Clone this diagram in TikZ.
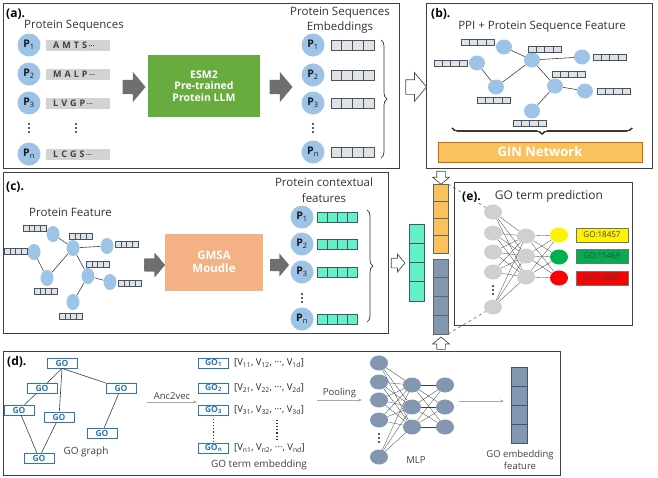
\documentclass[tikz,border=0pt]{standalone}
\usepackage{fontspec}
\setmainfont{Open Sans}
\usepackage{tikz}
\usetikzlibrary{arrows.meta,positioning,shapes.geometric,shapes.arrows,decorations.pathreplacing}

\definecolor{protblue}{HTML}{9DC3E6}
\definecolor{nodeblue}{HTML}{9DC3E6}
\definecolor{seqgray}{HTML}{D3D3D3}
\definecolor{cellgray}{HTML}{E2E2E2}
\definecolor{cellblue}{HTML}{44546A}
\definecolor{esmgreen}{HTML}{68AB3E}
\definecolor{gmsaorange}{HTML}{F4B183}
\definecolor{ginorange}{HTML}{F9C25C}
\definecolor{arrowgray}{HTML}{6F6F6F}
\definecolor{tealcell}{HTML}{63F2C6}
\definecolor{mlpblue}{HTML}{8497B0}
\definecolor{neurgray}{HTML}{D0D0D0}
\definecolor{goblue}{HTML}{2E75B6}
\definecolor{outgreen}{HTML}{00B050}

% one row of four cells: left x, centre y, cell width, cell height, style
\newcommand{\featrow}[5]{%
  \foreach \k in {0,...,3}
    \draw[#5] ({#1+\k*#3},{#2-#4/2}) rectangle ++(#3,#4);}
% one column of four cells: left x, top y, cell width, cell height, style
\newcommand{\featcol}[5]{%
  \foreach \k in {0,...,3}
    \draw[#5] (#1,{#2+\k*#4}) rectangle ++(#3,#4);}
% three stacked dots
\newcommand{\stackdots}[2]{%
  \foreach \dy in {-4,0,4}
    \fill[black!85] (#1,{#2+\dy}) circle (1.2pt);}

\tikzset{
  panel/.style     = {draw=black!75, line width=0.9pt},
  tag/.style       = {anchor=west, inner sep=0pt, font=\fontsize{12}{14}\selectfont\bfseries},
  caption/.style   = {inner sep=0pt, text=black!80, align=center,
                      font=\fontsize{11.5}{15.5}\selectfont},
  small/.style     = {inner sep=0pt, text=black!75, align=center,
                      font=\fontsize{9.5}{12}\selectfont},
  prot/.style      = {circle, fill=protblue, minimum size=23pt, inner sep=0pt,
                      text=black!90, font=\fontsize{10.5}{12}\selectfont\bfseries},
  seqbox/.style    = {fill=seqgray, text width=50pt, align=left, inner xsep=7pt,
                      inner ysep=0pt, minimum height=11pt,
                      text=black!75, font=\fontsize{9}{10}\selectfont\bfseries},
  modbox/.style    = {inner sep=0pt, text=white, align=center,
                      font=\fontsize{10.5}{11.5}\selectfont\bfseries},
  grayarrow/.style = {single arrow, fill=arrowgray, inner sep=7pt, minimum height=23pt,
                      single arrow head extend=8pt, single arrow tip angle=100},
  openarrow/.style = {single arrow, draw=black!70, fill=white, line width=0.7pt,
                      inner sep=7pt, minimum height=20pt,
                      single arrow head extend=7pt, single arrow tip angle=100},
  ppinode/.style   = {ellipse, fill=nodeblue, minimum width=16pt, minimum height=15pt,
                      inner sep=0pt},
  featcell/.style  = {draw=cellblue, fill=cellgray, line width=0.6pt},
  tealbox/.style   = {draw=cellblue, fill=tealcell, line width=0.6pt},
  edge/.style      = {black!75, line width=0.6pt},
  brace/.style     = {decorate, decoration={brace, amplitude=6pt}, black!80, line width=0.7pt},
  neuron/.style    = {ellipse, fill=neurgray, minimum width=18pt, minimum height=15pt,
                      inner sep=0pt},
  mlpnode/.style   = {neuron, fill=mlpblue},
  nnlink/.style    = {black!75, line width=0.3pt},
  gobox/.style     = {draw=goblue, fill=white, line width=0.7pt, minimum width=30pt,
                      minimum height=10pt, inner sep=0pt, text=goblue,
                      font=\fontsize{8.5}{9}\selectfont\bfseries},
  labbox/.style    = {draw=black!55, minimum width=52pt, minimum height=14pt, inner sep=0pt,
                      text=black!75, font=\fontsize{8}{9}\selectfont},
  thinarrow/.style = {-{Stealth[length=4pt]}, gray!70, line width=0.7pt},
}

\begin{document}
\begin{tikzpicture}[x=1pt,y=-1pt]
  \useasboundingbox (0,0) rectangle (658,477);
  % panels
  \draw[panel] (3,3) rectangle (399,168);
  \draw[panel] (426,3) rectangle (652,168);
  \draw[panel] (3,172) rectangle (388,333);
  \draw[panel] (454,182) rectangle (632,325);
  \draw[panel] (3,351) rectangle (560,475.5);

  % (a) sequences -> ESM2 -> embeddings
  \node[tag] (tagA) at (6,14) {(a).};
  \node[caption, anchor=west] (seqTitle) at (24,26) {Protein Sequences};
  \foreach \i/\y/\s in {1/45/A\ M\ T\ S, 2/74/M\ A\ L\ P, 3/103/L\ V\ G\ P, n/154/L\ C\ G\ S} {
    \node[prot] (pa\i) at (29,\y) {P\textsubscript{\mdseries\i}};
    \node[seqbox, anchor=west] (sa\i) at (46,\y) {\s\,{\fontsize{7}{8}\selectfont···}};
  }
  \stackdots{29}{128}
  \stackdots{76}{128}
  \node[grayarrow] (arA1) at (131,87) {};
  \node[modbox, fill=esmgreen, minimum width=112pt, minimum height=62pt] (esm)
      at (204,86) {ESM2\\Pre-trained\\Protein LLM};
  \node[grayarrow] (arA2) at (278,87) {};
  \node[caption] (embTitle) at (340,20) {Protein Sequences\\Embeddings};
  \foreach \i/\y in {1/45, 2/75, 3/103, n/152} {
    \node[prot] (pe\i) at (313,\y) {P\textsubscript{\mdseries\i}};
    \featrow{331}{\y}{10.75}{10}{featcell}
  }
  \stackdots{313}{128}
  \draw[brace] (381,40) -- (381,158);
  \node[openarrow] (toB) at (413,87) {};

  % (b) PPI graph + GIN
  \node[tag] (tagB) at (431,14) {(b).};
  \node[caption] (ppiTitle) at (542,27) {PPI + Protein Sequence Feature};
  \node[ppinode] (b1) at (504,47) {};
  \node[ppinode] (b2) at (477,63) {};
  \node[ppinode] (b3) at (532,60) {};
  \node[ppinode] (b4) at (582,57) {};
  \node[ppinode] (b5) at (496,87) {};
  \node[ppinode] (b6) at (555,86) {};
  \node[ppinode] (b7) at (585,91) {};
  \node[ppinode] (b8) at (532,111) {};
  \foreach \a/\b in {b2/b5, b5/b3, b1/b3, b3/b4, b3/b6, b6/b7, b6/b8}
    \draw[edge] (\a) -- (\b);
  \foreach \x/\y in {461/42, 528/49, 434/63, 593/57, 552/74, 477/100, 597/91, 513/123}
    \featrow{\x}{\y}{8.3}{6}{featcell}
  \draw[brace] (632,128) -- (452,128);
  \node[modbox, fill=ginorange, draw=orange!80!black, line width=0.4pt,
        minimum width=204pt, minimum height=20pt, font=\fontsize{13}{14}\selectfont\bfseries]
      (gin) at (540,152) {GIN Network};

  % (c) protein feature graph -> GMSA -> contextual features
  \node[tag] (tagC) at (6,187) {(c).};
  \node[caption, anchor=west] (featTitle) at (29,212) {Protein Feature};
  \node[ppinode, minimum width=13pt, minimum height=16pt] (c1) at (53,234) {};
  \node[ppinode, minimum width=13pt, minimum height=16pt] (c2) at (34,252) {};
  \node[ppinode, minimum width=13pt, minimum height=16pt] (c3) at (73,248) {};
  \node[ppinode, minimum width=13pt, minimum height=16pt] (c4) at (107,246) {};
  \node[ppinode, minimum width=13pt, minimum height=16pt] (c5) at (47,278) {};
  \node[ppinode, minimum width=13pt, minimum height=16pt] (c6) at (88,276) {};
  \node[ppinode, minimum width=13pt, minimum height=16pt] (c7) at (110,282) {};
  \node[ppinode, minimum width=13pt, minimum height=16pt] (c8) at (73,302) {};
  \foreach \a/\b in {c2/c5, c5/c3, c3/c1, c3/c4, c3/c6, c6/c7, c6/c8}
    \draw[edge] (\a) -- (\b);
  \foreach \x/\y in {23/228, 69/236, 4/251, 115/244, 86/264, 34/291, 118/283, 59/316}
    \featrow{\x}{\y}{5.8}{6}{featcell}
  \node[grayarrow, inner sep=6pt, minimum height=20pt, single arrow head extend=5.5pt]
      (arC1) at (152,265) {};
  \node[modbox, fill=gmsaorange, minimum width=98pt, minimum height=57pt,
        font=\fontsize{11.5}{13.5}\selectfont\bfseries] (gmsa)
      at (214,262) {GMSA\\Moudle};
  \node[grayarrow, inner sep=6pt, minimum height=19pt, single arrow head extend=5.5pt]
      (arC2) at (277,265) {};
  \node[caption] (ctxTitle) at (324,190) {Protein contextual\\features};
  \foreach \i/\y in {1/217, 2/244, 3/272, n/319} {
    \node[prot] (pc\i) at (302,\y) {P\textsubscript{\mdseries\i}};
    \featrow{317}{\y}{10}{10}{tealbox}
  }
  \stackdots{302}{298}
  \draw[brace] (367,210) -- (367,322);
  \node[openarrow, inner sep=4.5pt, minimum height=13pt, single arrow head extend=4pt]
      (toTeal) at (396,263) {};

  % concatenated vectors
  \featcol{409}{224}{15}{19.25}{tealbox}
  \featcol{433}{184}{15}{17.25}{draw=black!60, fill=ginorange, line width=0.6pt}
  \featcol{433}{259}{15}{18.75}{draw=black!60, fill=mlpblue, line width=0.6pt}
  \node[openarrow, shape border rotate=270, inner sep=4pt, minimum height=13pt,
        single arrow head extend=4pt] (toOrange) at (441,176) {};
  \node[openarrow, shape border rotate=90, inner sep=4pt, minimum height=12pt,
        single arrow head extend=4pt] (toBlue) at (441,345) {};
  \coordinate (orangeTop) at (448,184);
  \coordinate (blueBot) at (448,334);

  % (e) GO term prediction
  \node[tag] (tagE) at (462,197) {(e).};
  \node[caption, font=\fontsize{12}{14}\selectfont] (predTitle) at (549,196) {GO term prediction};
  \foreach \i/\y in {1/212, 2/233, 3/252, 4/272, 5/307}
    \node[neuron] (e1\i) at (493,\y) {};
  \stackdots{493}{290}
  \foreach \i/\y in {1/236, 2/256, 3/277}
    \node[neuron] (e2\i) at (526,\y) {};
  \node[neuron, fill=yellow] (o1) at (559,235) {};
  \node[neuron, fill=outgreen] (o2) at (559,257) {};
  \node[neuron, fill=red] (o3) at (559,278) {};
  \foreach \i in {1,...,5}
    \foreach \j in {1,2,3}
      \draw[nnlink] (e1\i) -- (e2\j);
  \foreach \i in {1,2,3}
    \foreach \j in {1,2,3}
      \draw[nnlink] (e2\i) -- (o\j);
  \node[labbox, fill=yellow] (go1) at (602,235) {GO:18457};
  \node[labbox, fill=outgreen] (go2) at (602,256) {GO:15469};
  \node[labbox, fill=red] (go3) at (602,278) {GO:14687};
  \draw[dashed, black!60, line width=0.6pt] (orangeTop) -- (e11);
  \draw[dashed, black!60, line width=0.6pt] (blueBot) -- (e15);

  % (d) GO graph -> embedding -> MLP
  \node[tag] (tagD) at (7,362) {(d).};
  \node[gobox] (g1) at (62,363) {GO};
  \node[gobox] (g2) at (42,388) {GO};
  \node[gobox] (g3) at (121,388) {GO};
  \node[gobox] (g4) at (19,410) {GO};
  \node[gobox] (g5) at (59,417) {GO};
  \node[gobox] (g6) at (102,433) {GO};
  \node[gobox] (g7) at (39,458) {GO};
  \foreach \b in {g2,g3,g5}
    \draw[edge] (g1.south) -- (\b);
  \foreach \a/\b in {g2/g4, g4/g7, g5/g7, g3/g6}
    \draw[edge] (\a) -- (\b);
  \node[small, font=\fontsize{10}{12}\selectfont] (graphLbl) at (86,452) {GO graph};
  \coordinate (ancA) at (147,402);
  \coordinate (ancB) at (197,402);
  \draw[thinarrow] (ancA) -- (ancB) node[midway, above=2pt, small] {Anc2vec};
  \foreach \i/\y in {1/363, 2/388, 3/410, n/448} {
    \node[gobox] (gt\i) at (213.5,\y) {GO\textsubscript{\i}};
    \node[small, anchor=west, text=black!85] (vec\i) at (234,\y)
      {[V\textsubscript{\i1}, V\textsubscript{\i2}, ···, V\textsubscript{\i d}]};
  }
  \draw[dotted, line width=1.1pt, black!80] (gt3) ++(0,9) -- ++(0,22);
  \draw[dotted, line width=1.1pt, black!80] (277,420) -- (277,440);
  \node[small, font=\fontsize{10}{12}\selectfont] (embLbl) at (259,465) {GO term embedding};
  \coordinate (poolA) at (317,400);
  \coordinate (poolB) at (362,400);
  \draw[thinarrow] (poolA) -- (poolB) node[midway, above=2pt, small] {Pooling};
  \foreach \i/\y in {1/363, 2/382, 3/400, 4/420, 5/457}
    \node[mlpnode] (m1\i) at (379,\y) {};
  \stackdots{379}{438}
  \foreach \i/\y in {1/385, 2/407, 3/427} {
    \node[mlpnode] (m2\i) at (412,\y) {};
    \node[mlpnode] (m3\i) at (445,\y) {};
  }
  \foreach \i in {1,...,5}
    \foreach \j in {1,2,3}
      \draw[nnlink] (m1\i) -- (m2\j);
  \foreach \i in {1,2,3}
    \foreach \j in {1,2,3}
      \draw[nnlink] (m2\i) -- (m3\j);
  \node[small] (mlpLbl) at (416,460) {MLP};
  \coordinate (outA) at (459,401);
  \coordinate (outB) at (504,401);
  \draw[thinarrow] (outA) -- (outB);
  \featcol{511}{367}{16}{19}{draw=cellblue, fill=mlpblue, line width=0.6pt}
  \node[small] (goEmbLbl) at (520,460) {GO embedding\\feature};
\end{tikzpicture}
\end{document}
